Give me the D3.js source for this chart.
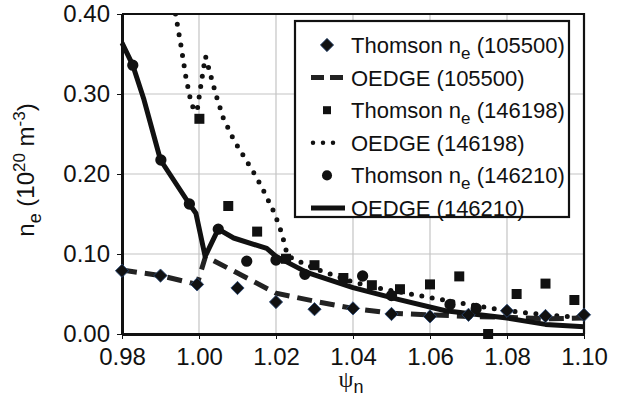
<!DOCTYPE html>
<html>
<head>
<meta charset="utf-8">
<script src="https://cdn.jsdelivr.net/npm/d3@7"></script>
<style>
  body { margin: 0; background: #fff; }
  text { font-family: "Liberation Sans", Arial, sans-serif; fill: #111; }
  .axis path, .axis line { stroke: #111; }
  .axis text { font-size: 24px; }
</style>
</head>
<body>
<script>
// Thomson n_e (105500) - diamonds
const psiTs105500 = [0.98, 0.99, 0.9995, 1.01, 1.02, 1.03, 1.04, 1.05, 1.06, 1.07, 1.08, 1.09, 1.10];
const neTs105500 = [0.079, 0.073, 0.062, 0.0575, 0.040, 0.031, 0.032, 0.025, 0.022, 0.024, 0.029, 0.0225, 0.024];

// OEDGE (105500) - dashed
const psiOe105500 = [0.98, 0.99, 0.9995, 1.0017, 1.02, 1.03, 1.04, 1.05, 1.06, 1.07, 1.08, 1.09, 1.10];
const neOe105500 = [0.080, 0.073, 0.062, 0.097, 0.051, 0.041, 0.032, 0.026, 0.024, 0.022, 0.021, 0.019, 0.020];

// Thomson n_e (146198) - squares
const psiTs146198 = [1.0001, 1.0076, 1.0151, 1.0226, 1.0300, 1.0375, 1.0449, 1.0522, 1.0600, 1.0676, 1.0751, 1.0825, 1.0900, 1.0975];
const neTs146198 = [0.269, 0.160, 0.128, 0.094, 0.086, 0.070, 0.061, 0.056, 0.062, 0.072, 0.000, 0.050, 0.063, 0.0425];

// OEDGE (146198) - dotted
const psiOe146198 = [0.9939, 0.9953, 0.9966, 0.9978, 0.9988, 0.9996, 1.0004, 1.0012, 1.0017, 1.0031, 1.0046, 1.0063, 1.0091,
  1.0122, 1.0147, 1.0170, 1.0196, 1.0215, 1.0230, 1.030, 1.040, 1.048, 1.055, 1.0635, 1.0747, 1.0838, 1.0938, 1.10];
const neOe146198 = [0.400, 0.361, 0.321, 0.2925, 0.278, 0.282, 0.308, 0.333, 0.347, 0.322, 0.296, 0.270, 0.242,
  0.2175, 0.198, 0.177, 0.151, 0.126, 0.0975, 0.082, 0.065, 0.056, 0.050, 0.0425, 0.033, 0.027, 0.0225, 0.020];

// Thomson n_e (146210) - circles
const psiTs146210 = [0.9828, 0.9901, 0.9975, 1.0050, 1.0124, 1.0200, 1.0275, 1.0425, 1.0500, 1.0652, 1.0720];
const neTs146210 = [0.336, 0.2175, 0.1625, 0.131, 0.091, 0.0925, 0.0746, 0.0725, 0.048, 0.037, 0.032];

// OEDGE (146210) - solid
const psiOe146210 = [0.98, 0.9828, 0.9857, 0.990, 0.9975, 0.9992, 1.0016, 1.005, 1.009, 1.0176, 1.020, 1.028, 1.040, 1.052, 1.064, 1.080, 1.090, 1.10];
const neOe146210 = [0.364, 0.336, 0.293, 0.2175, 0.1625, 0.151, 0.097, 0.131, 0.120, 0.107, 0.097, 0.077, 0.058, 0.043, 0.029, 0.020, 0.012, 0.009];

const xTicks = [0.98, 1.00, 1.02, 1.04, 1.06, 1.08, 1.10];
const yTicks = [0.00, 0.10, 0.20, 0.30, 0.40];

const legendLabels = [
  ['Thomson n', 'e', ' (105500)'],
  ['OEDGE (105500)'],
  ['Thomson n', 'e', ' (146198)'],
  ['OEDGE (146198)'],
  ['Thomson n', 'e', ' (146210)'],
  ['OEDGE (146210)']
];

const margin = { top: 14, right: 40, bottom: 70, left: 122 };
const width = 624 - margin.left - margin.right;
const height = 404 - margin.top - margin.bottom;

const svg = d3.select('body').append('svg')
  .attr('width', 624)
  .attr('height', 404)
  .append('g')
  .attr('transform', `translate(${margin.left},${margin.top})`);

const x = d3.scaleLinear().domain([0.98, 1.10]).range([0, width]);
const y = d3.scaleLinear().domain([0, 0.40]).range([height, 0]);

const zip = (xs, ys) => xs.map((v, i) => [v, ys[i]]);

svg.append('defs').append('clipPath').attr('id', 'plot')
  .append('rect').attr('x', -8).attr('y', 0).attr('width', width + 16).attr('height', height + 8);

// grid
svg.append('g').selectAll('line.gx')
  .data(xTicks.slice(1, -1)).enter().append('line')
  .attr('x1', d => x(d)).attr('x2', d => x(d))
  .attr('y1', 0).attr('y2', height)
  .attr('stroke', '#c4c4c4').attr('stroke-width', 1.2);
svg.append('g').selectAll('line.gy')
  .data(yTicks.slice(1, -1)).enter().append('line')
  .attr('x1', 0).attr('x2', width)
  .attr('y1', d => y(d)).attr('y2', d => y(d))
  .attr('stroke', '#c4c4c4').attr('stroke-width', 1.2);

// frame top/right
svg.append('path')
  .attr('d', `M0,${y(0.40)}H${x(1.10)}V${height}`)
  .attr('fill', 'none').attr('stroke', '#111').attr('stroke-width', 2.2);

// axes
svg.append('g')
  .attr('class', 'axis')
  .attr('transform', `translate(0,${height})`)
  .call(d3.axisBottom(x).tickValues(xTicks).tickFormat(d3.format('.2f')).tickSize(5).tickPadding(9).tickSizeOuter(0))
  .call(g => g.select('.domain').attr('stroke-width', 3));

svg.append('g')
  .attr('class', 'axis')
  .call(d3.axisLeft(y).tickValues(yTicks).tickFormat(d3.format('.2f')).tickSize(5).tickPadding(7).tickSizeOuter(0))
  .call(g => g.select('.domain').attr('stroke-width', 3));

const line = d3.line().x(d => x(d[0])).y(d => y(d[1]));
const plot = svg.append('g').attr('clip-path', 'url(#plot)');

plot.append('path')
  .datum(zip(psiOe146198, neOe146198))
  .attr('d', line)
  .attr('fill', 'none').attr('stroke', '#111').attr('stroke-width', 5)
  .attr('stroke-linecap', 'round').attr('stroke-dasharray', '0 10.5');

plot.append('path')
  .datum(zip(psiOe105500, neOe105500))
  .attr('d', line)
  .attr('fill', 'none').attr('stroke', '#222').attr('stroke-width', 5)
  .attr('stroke-dasharray', '15 8');

plot.append('path')
  .datum(zip(psiOe146210, neOe146210))
  .attr('d', line)
  .attr('fill', 'none').attr('stroke', '#111').attr('stroke-width', 5)
  .attr('stroke-linejoin', 'round');

const diamond = d3.symbol().type(d3.symbolSquare).size(88);
const square = d3.symbol().type(d3.symbolSquare).size(100);
const circle = d3.symbol().type(d3.symbolCircle).size(100);

plot.selectAll('.dia')
  .data(zip(psiTs105500, neTs105500)).enter().append('path')
  .attr('class', 'dia')
  .attr('d', diamond)
  .attr('transform', d => `translate(${x(d[0])},${y(d[1])}) rotate(45)`)
  .attr('fill', '#111').attr('stroke', '#2a4a78').attr('stroke-width', 0.8);

plot.selectAll('.sq')
  .data(zip(psiTs146198, neTs146198)).enter().append('path')
  .attr('class', 'sq')
  .attr('d', square)
  .attr('transform', d => `translate(${x(d[0])},${y(d[1])})`)
  .attr('fill', '#111');

plot.selectAll('.dot')
  .data(zip(psiTs146210, neTs146210)).enter().append('path')
  .attr('class', 'dot')
  .attr('d', circle)
  .attr('transform', d => `translate(${x(d[0])},${y(d[1])})`)
  .attr('fill', '#111');

// legend
const legend = svg.append('g').attr('transform', 'translate(173,7)');
legend.append('rect')
  .attr('width', 274).attr('height', 196)
  .attr('fill', '#fff').attr('stroke', '#111').attr('stroke-width', 2.2);

const rows = legend.selectAll('.row')
  .data(legendLabels).enter().append('g')
  .attr('transform', (d, i) => `translate(0,${24 + i * 32.6})`);

rows.each(function (d, i) {
  const g = d3.select(this);
  if (i === 0) g.append('path').attr('d', diamond).attr('transform', 'translate(32,0) rotate(45)')
    .attr('fill', '#111').attr('stroke', '#2a4a78').attr('stroke-width', 0.8);
  if (i === 2) g.append('path').attr('d', d3.symbol().type(d3.symbolSquare).size(64)).attr('transform', 'translate(32,0)').attr('fill', '#111');
  if (i === 4) g.append('path').attr('d', d3.symbol().type(d3.symbolCircle).size(80)).attr('transform', 'translate(32,0)').attr('fill', '#111');
  if (i === 1) g.append('line').attr('x1', 16).attr('x2', 50).attr('stroke', '#222').attr('stroke-width', 5).attr('stroke-dasharray', '13 6');
  if (i === 3) g.append('line').attr('x1', 18).attr('x2', 48).attr('stroke', '#111').attr('stroke-width', 4.5)
    .attr('stroke-linecap', 'round').attr('stroke-dasharray', '0 10');
  if (i === 5) g.append('line').attr('x1', 16).attr('x2', 50).attr('stroke', '#111').attr('stroke-width', 5);

  const t = g.append('text').attr('x', 56).attr('y', 8).style('font-size', '22px');
  t.append('tspan').text(d[0]);
  if (d.length > 1) {
    t.append('tspan').attr('dy', 6).style('font-size', '17px').text(d[1]);
    t.append('tspan').attr('dy', -6).text(d[2]);
  }
});

// axis titles
const xl = svg.append('text')
  .attr('x', 229).attr('y', 373)
  .attr('text-anchor', 'middle');
xl.append('tspan').style('font-family', '"Liberation Serif", "DejaVu Serif", serif').style('font-size', '24px').text('ψ');
xl.append('tspan').attr('dy', 6).style('font-size', '18px').text('n');

const yl = svg.append('text')
  .attr('transform', `translate(-88,${height / 2 - 4}) rotate(-90)`)
  .attr('text-anchor', 'middle')
  .style('font-size', '24px');
yl.append('tspan').text('n');
yl.append('tspan').attr('dy', 7).style('font-size', '18px').text('e');
yl.append('tspan').attr('dy', -7).text(' (10');
yl.append('tspan').attr('dy', -9).style('font-size', '17px').text('20');
yl.append('tspan').attr('dy', 9).text(' m');
yl.append('tspan').attr('dy', -9).style('font-size', '17px').text('-3');
yl.append('tspan').attr('dy', 9).text(')');
</script>
</body>
</html>
